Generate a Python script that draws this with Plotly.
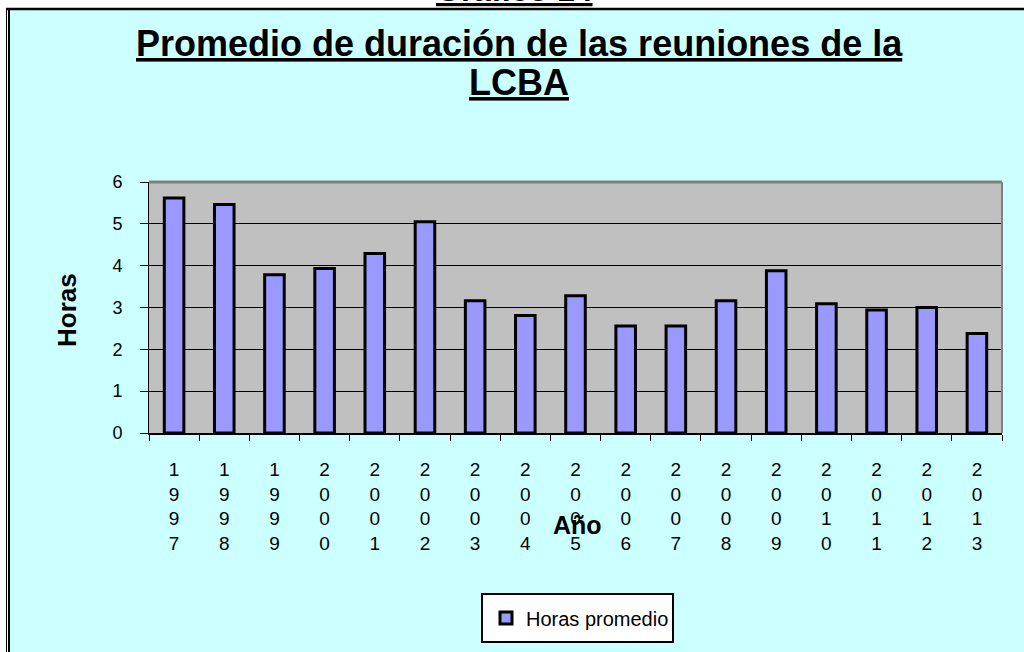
import plotly.graph_objects as go

# ---- data ----
years = ["1997", "1998", "1999", "2000", "2001", "2002", "2003", "2004", "2005",
         "2006", "2007", "2008", "2009", "2010", "2011", "2012", "2013"]
horas_promedio = [5.62, 5.46, 3.78, 3.93, 4.29, 5.05, 3.16, 2.81, 3.28,
                  2.56, 2.56, 3.16, 3.88, 3.09, 2.94, 3.0, 2.38]
y_ticks = [0, 1, 2, 3, 4, 5, 6]
series_name = "Horas promedio"
title_line1 = "Promedio de duración de las reuniones de la"
title_line2 = "LCBA"
header_text = "Gráfico 14"
x_title = "Año"
y_title = "Horas"

# vertical (stacked digit) tick labels built from the years
x_ticktext = ["<br>".join(list(y)) for y in years]

# ---- layout geometry (pixels) ----
W, H = 1024, 652
L, R, T, B = 149, 1002, 182, 433


def px_x(p):
    return (p - L) / (R - L)


def px_y(p):
    return (B - p) / (B - T)


FONT = "Liberation Sans, Arial, sans-serif"
BG = "#CCFFFF"

fig = go.Figure()
fig.add_trace(go.Bar(
    x=years,
    y=horas_promedio,
    name=series_name,
    marker=dict(color="#9999FF", line=dict(color="black", width=3)),
    showlegend=True,
))

shapes = [
    # white page strips outside the framed chart
    dict(type="rect", xref="paper", yref="paper", layer="below",
         x0=px_x(-5), x1=px_x(W + 5), y0=px_y(8), y1=px_y(-5),
         fillcolor="white", line=dict(width=0)),
    dict(type="rect", xref="paper", yref="paper", layer="below",
         x0=px_x(-5), x1=px_x(8), y0=px_y(H + 5), y1=px_y(-5),
         fillcolor="white", line=dict(width=0)),
    # double left frame line
    dict(type="line", xref="paper", yref="paper", layer="above",
         x0=px_x(6.5), x1=px_x(6.5), y0=px_y(8), y1=px_y(H + 5),
         line=dict(color="black", width=1)),
    dict(type="line", xref="paper", yref="paper", layer="above",
         x0=px_x(9), x1=px_x(9), y0=px_y(8), y1=px_y(H + 5),
         line=dict(color="black", width=2)),
    # top frame line
    dict(type="line", xref="paper", yref="paper", layer="above",
         x0=px_x(6), x1=px_x(W + 5), y0=px_y(9), y1=px_y(9),
         line=dict(color="black", width=2.5)),
    # gray top/right plot border
    dict(type="line", xref="paper", yref="paper", layer="above",
         x0=0, x1=1, y0=1, y1=1, line=dict(color="#808080", width=3)),
    dict(type="line", xref="paper", yref="paper", layer="above",
         x0=1, x1=1, y0=0, y1=1, line=dict(color="#808080", width=2)),
    # legend box
    dict(type="rect", xref="paper", yref="paper", layer="below",
         x0=px_x(482), x1=px_x(673), y0=px_y(642), y1=px_y(594),
         fillcolor="white", line=dict(color="black", width=2)),
]

annotations = [
    dict(text="<b><u>" + header_text + "</u></b>", xref="paper", yref="paper",
         x=px_x(514), y=px_y(10.5), xanchor="center", yanchor="bottom",
         showarrow=False, font=dict(family=FONT, size=32, color="black")),
    dict(text="<b><u>" + title_line1 + "</u></b>", xref="paper", yref="paper",
         x=px_x(519), y=px_y(66), xanchor="center", yanchor="bottom",
         showarrow=False, font=dict(family=FONT, size=36, color="black")),
    dict(text="<b><u>" + title_line2 + "</u></b>", xref="paper", yref="paper",
         x=px_x(519), y=px_y(105), xanchor="center", yanchor="bottom",
         showarrow=False, font=dict(family=FONT, size=36, color="black")),
    dict(text="<b>" + y_title + "</b>", xref="paper", yref="paper",
         x=px_x(67), y=px_y(310), xanchor="center", yanchor="middle",
         textangle=-90, showarrow=False,
         font=dict(family=FONT, size=26, color="black")),
    dict(text="<b>" + x_title + "</b>", xref="paper", yref="paper",
         x=px_x(577), y=px_y(525), xanchor="center", yanchor="middle",
         showarrow=False, font=dict(family=FONT, size=25, color="black")),
]

fig.update_layout(
    width=W, height=H,
    margin=dict(l=L, r=W - R, t=T, b=H - B, pad=0),
    paper_bgcolor=BG,
    plot_bgcolor="#C0C0C0",
    bargap=0.61,
    font=dict(family=FONT, color="black"),
    shapes=shapes,
    annotations=annotations,
    showlegend=True,
    legend=dict(
        x=px_x(486), y=px_y(618), xanchor="left", yanchor="middle",
        bgcolor="rgba(0,0,0,0)", borderwidth=0,
        font=dict(family=FONT, size=20, color="black"),
    ),
    xaxis=dict(
        type="category",
        tickmode="array", tickvals=years, ticktext=x_ticktext,
        tickson="boundaries",
        ticks="outside", ticklen=6, tickwidth=1, tickcolor="black",
        showline=True, linecolor="black", linewidth=2,
        showgrid=False,
        tickfont=dict(family=FONT, size=19, color="black"),
        ticklabelstandoff=18,
        range=[-0.5, len(years) - 0.5],
    ),
    yaxis=dict(
        range=[0, 6], tickmode="array", tickvals=y_ticks,
        ticks="outside", ticklen=8, tickwidth=1, tickcolor="black",
        showline=True, linecolor="black", linewidth=1,
        showgrid=True, gridcolor="black", gridwidth=1,
        zeroline=False,
        tickfont=dict(family=FONT, size=18, color="black"),
        ticklabelstandoff=14,
    ),
)

fig.write_html(
    "out.html",
    config={"displayModeBar": False},
    post_script="document.body.style.margin='0';document.body.style.overflow='hidden';",
)
